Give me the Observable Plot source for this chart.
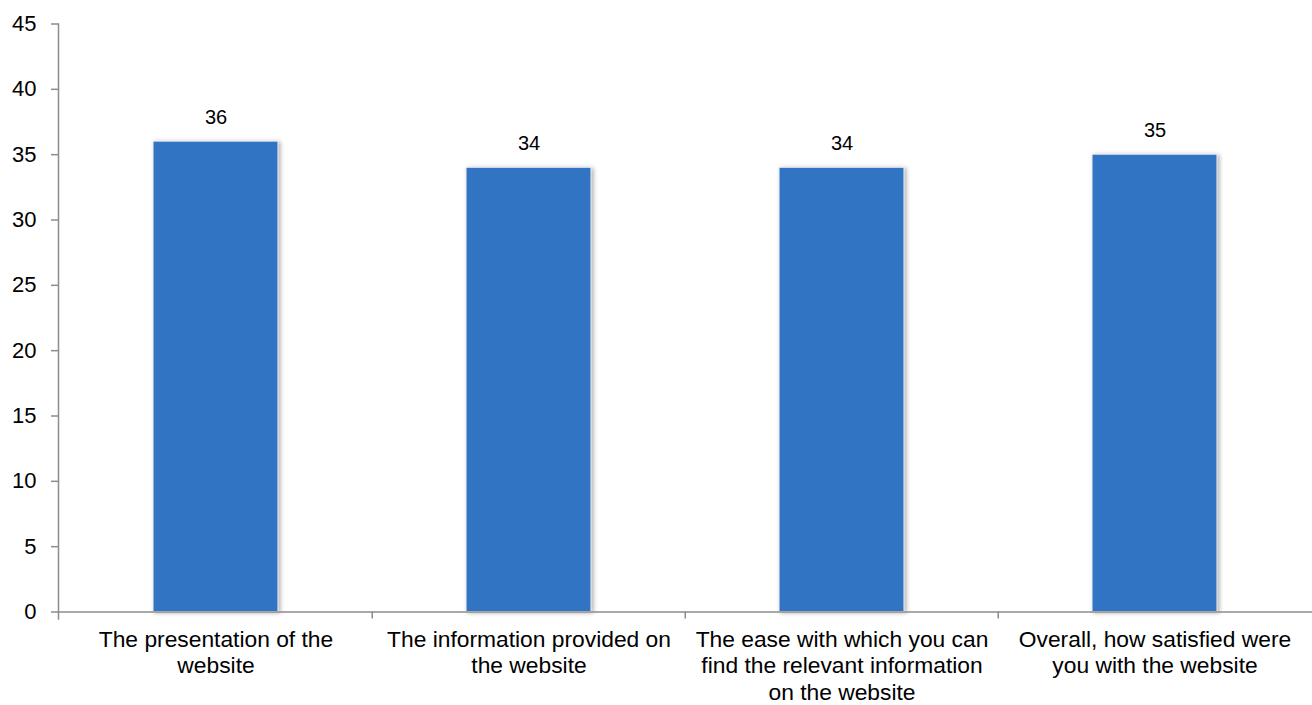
<!DOCTYPE html>
<html>
<head>
<meta charset="utf-8">
<script src="https://cdn.jsdelivr.net/npm/d3@7"></script>
<script src="https://cdn.jsdelivr.net/npm/@observablehq/plot@0.6"></script>
<style>
  html, body { margin: 0; padding: 0; background: #fff; }
  #chart { width: 1312px; height: 705px; overflow: hidden; }
</style>
</head>
<body>
<div id="chart"></div>
<script>
const categories = [
  "The presentation of the\nwebsite",
  "The information provided on\nthe website",
  "The ease with which you can\nfind the relevant information\non the website",
  "Overall, how satisfied were\nyou with the website"
];
const values = [36, 34, 34, 35];
const yTicks = [0, 5, 10, 15, 20, 25, 30, 35, 40, 45];

const data = categories.map((c, i) => ({category: c, value: values[i]}));

const W = 1312, H = 705;
const mL = 58, mR = 0, mT = 23.5, mB = 93.5;
const step = (W - mL - mR) / categories.length;
const font = "Liberation Sans, Arial, sans-serif";

const chart = Plot.plot({
  width: W,
  height: H,
  marginLeft: mL,
  marginRight: mR,
  marginTop: mT,
  marginBottom: mB,
  style: {fontFamily: font, background: "#fff", overflow: "visible"},
  x: {domain: categories, paddingInner: 0.6, paddingOuter: 0.3},
  y: {domain: [0, 45]},
  marks: [
    Plot.barY(data, {x: "category", y: "value", fill: "#3174C4", stroke: "#f4f4f4", strokeWidth: 1}),
    Plot.frame({anchor: "left", stroke: "#8c8c8c", strokeWidth: 1.5, insetBottom: -7}),
    Plot.frame({anchor: "bottom", stroke: "#8c8c8c", strokeWidth: 1.5}),
    Plot.ruleX(categories.slice(1), {x: d => d, dx: -step / 2, y1: 0, y2: 0, insetBottom: -7, stroke: "#8c8c8c", strokeWidth: 1.5}),
    Plot.axisY({ticks: yTicks, tickSize: 7, tickPadding: 15, stroke: "#8c8c8c", fill: "#000", fontSize: 22, strokeWidth: 1.5, label: null}),
    Plot.axisX({tickSize: 0, tickPadding: 16, fill: "#000", fontSize: 22.8, lineHeight: 1.165, label: null}),
    Plot.text(data, {x: "category", y: "value", text: d => String(d.value), dy: -24, fontSize: 20, fill: "#000"})
  ]
});

d3.select(chart).selectAll("g[aria-label='bar'] rect").style("filter", "drop-shadow(2px 1px 2px rgba(0,0,0,0.3))");
document.getElementById("chart").appendChild(chart);
</script>
</body>
</html>
